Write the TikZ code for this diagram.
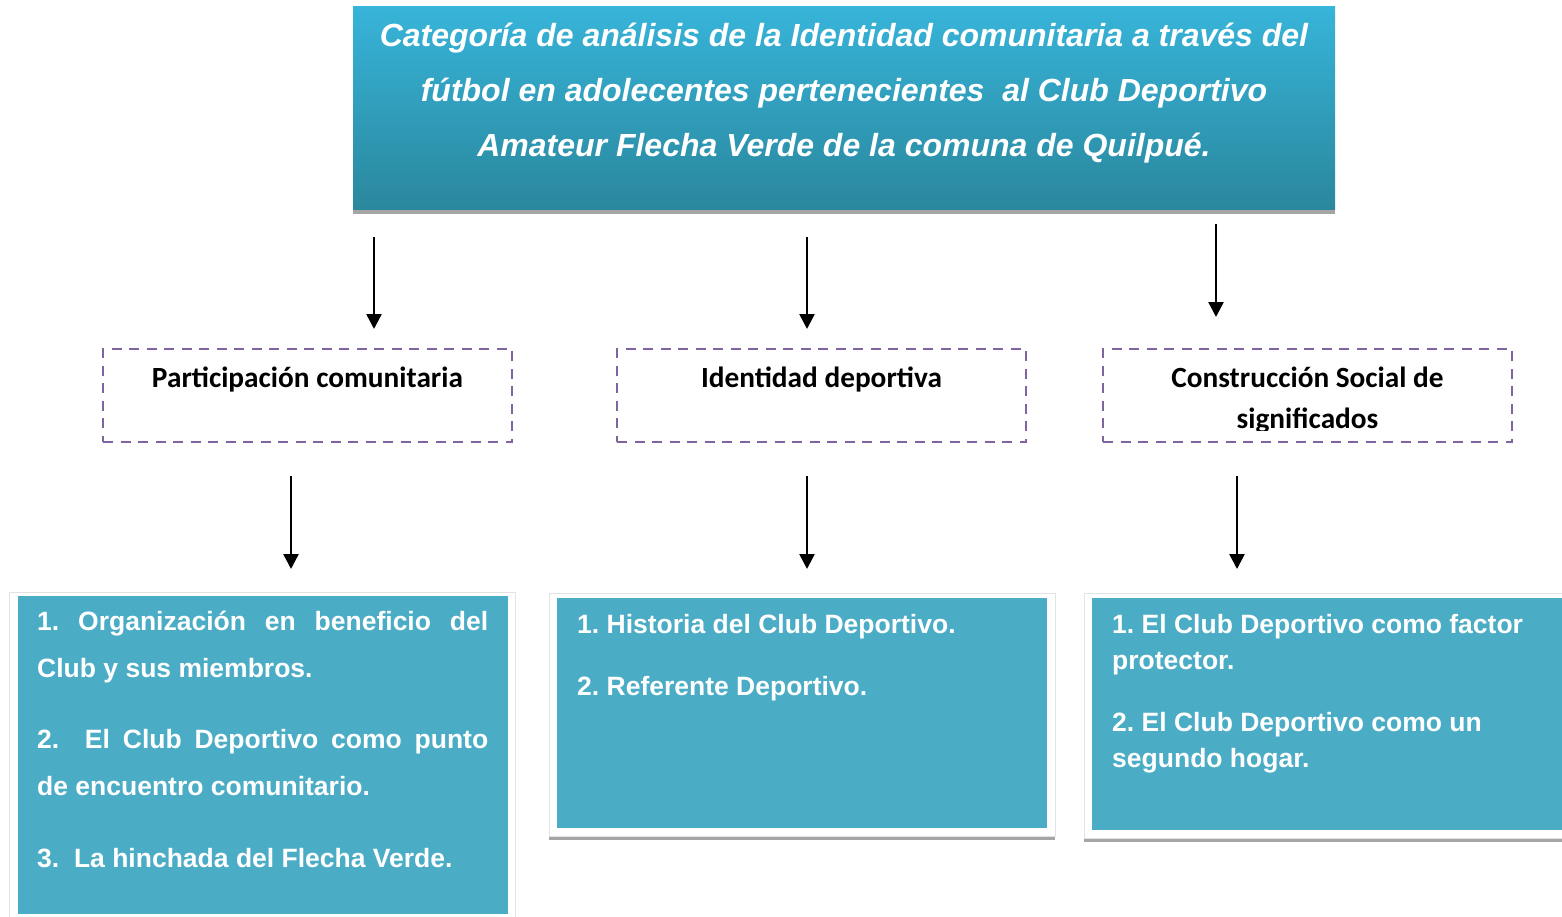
\documentclass[tikz,border=0pt]{standalone}
\usepackage{fontspec}
\setmainfont{Liberation Sans}
\newfontfamily\calfont{Carlito}
\usetikzlibrary{arrows.meta}
\definecolor{titletop}{HTML}{37B4D9}
\definecolor{titlebot}{HTML}{2A879D}
\definecolor{boxblue}{HTML}{4BACC6}
\definecolor{dashpurple}{HTML}{8064A2}
\definecolor{shadowgray}{HTML}{A5A5A5}
\definecolor{framegray}{HTML}{E3E3E3}
\frenchspacing
\begin{document}
\begin{tikzpicture}[x=1pt,y=-1pt,
  arrowline/.style={line width=2.5pt,-{Triangle[width=15pt,length=15pt]}},
  catbox/.style={draw=dashpurple,line width=2.8pt,dash pattern=on 10pt off 7.5pt,
    minimum width=409pt,minimum height=93pt,inner sep=0pt},
  cattext/.style={font=\calfont\fontsize{29.3}{41}\selectfont\bfseries,
    text=black,inner sep=0pt,align=center,anchor=base},
  bluebox/.style={fill=boxblue,draw=none,inner sep=0pt},
  frame/.style={fill=white,draw=framegray,line width=1pt,inner sep=0pt},
  bodytext/.style={text=white,inner sep=0pt,align=left,anchor=base west},
  titletext/.style={text=white,inner sep=0pt,align=center,anchor=base,
    font=\fontsize{32}{55}\selectfont\bfseries\itshape}
]
\useasboundingbox (0,0) rectangle (1562,917);

% title
\fill[shadowgray] (353,210) rectangle (1335,214);
\node[top color=titletop,bottom color=titlebot,draw=none,inner sep=0pt,
  minimum width=982pt,minimum height=203pt] (title) at (844,108.5) {};
\node[titletext] (titlet) at (844,157)
  {Categoría de análisis de la Identidad comunitaria a través del\\
   fútbol en adolecentes pertenecientes\ \ al Club Deportivo\\
   Amateur Flecha Verde de la comuna de Quilpué.};

% first arrows
\coordinate (a1s) at (374,237); \coordinate (a1e) at (374,329);
\coordinate (a2s) at (807,237); \coordinate (a2e) at (807,329);
\coordinate (a3s) at (1216,224); \coordinate (a3e) at (1216,317);
\draw[arrowline] (a1s) -- (a1e);
\draw[arrowline] (a2s) -- (a2e);
\draw[arrowline] (a3s) -- (a3e);

% category boxes
\node[catbox] (c1) at (307.5,395.5) {};
\node[catbox] (c2) at (821.5,395.5) {};
\node[catbox] (c3) at (1307.5,395.5) {};
\node[cattext] (c1t) at (307.5,387) {Participación comunitaria};
\node[cattext] (c2t) at (821.5,387) {Identidad deportiva};
\begin{scope}
  \clip (1103,349) rectangle (1512,430);
  \node[cattext] (c3t) at (1307.5,428) {Construcción Social de\\significados};
\end{scope}

% second arrows
\coordinate (b1s) at (291,476); \coordinate (b1e) at (291,569);
\coordinate (b2s) at (807,476); \coordinate (b2e) at (807,569);
\coordinate (b3s) at (1237,476); \coordinate (b3e) at (1237,569);
\draw[arrowline] (b1s) -- (b1e);
\draw[arrowline] (b2s) -- (b2e);
\draw[arrowline] (b3s) -- (b3e);

% bottom boxes
\draw[frame] (9,592) rectangle (515,930);
\fill[shadowgray] (549,836) rectangle (1055,840);
\draw[frame] (549,593) rectangle (1055,836);
\fill[shadowgray] (1084,838) rectangle (1575,842);
\draw[frame] (1084,593) rectangle (1575,838);

\node[bluebox,minimum width=490pt,minimum height=318pt] (d1) at (263,755) {};
\node[bluebox,minimum width=490pt,minimum height=230pt] (d2) at (802,713) {};
\node[bluebox,minimum width=480pt,minimum height=232pt] (d3) at (1332,714) {};

\node[bodytext,font=\fontsize{26.5}{47}\selectfont\bfseries] (d1t) at (37,867)
  {\makebox[451pt][s]{1. Organización en beneficio del}\\
   Club y sus miembros.\\[24pt]
   \makebox[451pt][s]{2.\ \ El Club Deportivo como punto}\\
   de encuentro comunitario.\\[25pt]
   3.\ \ La hinchada del Flecha Verde.};
\node[bodytext,font=\fontsize{26.5}{36}\selectfont\bfseries] (d2t) at (577,695)
  {1. Historia del Club Deportivo.\\[26pt]
   2. Referente Deportivo.};
\node[bodytext,font=\fontsize{26.5}{36}\selectfont\bfseries] (d3t) at (1112,767)
  {1. El Club Deportivo como factor\\
   protector.\\[26pt]
   2. El Club Deportivo como un\\
   segundo hogar.};
\end{tikzpicture}
\end{document}
